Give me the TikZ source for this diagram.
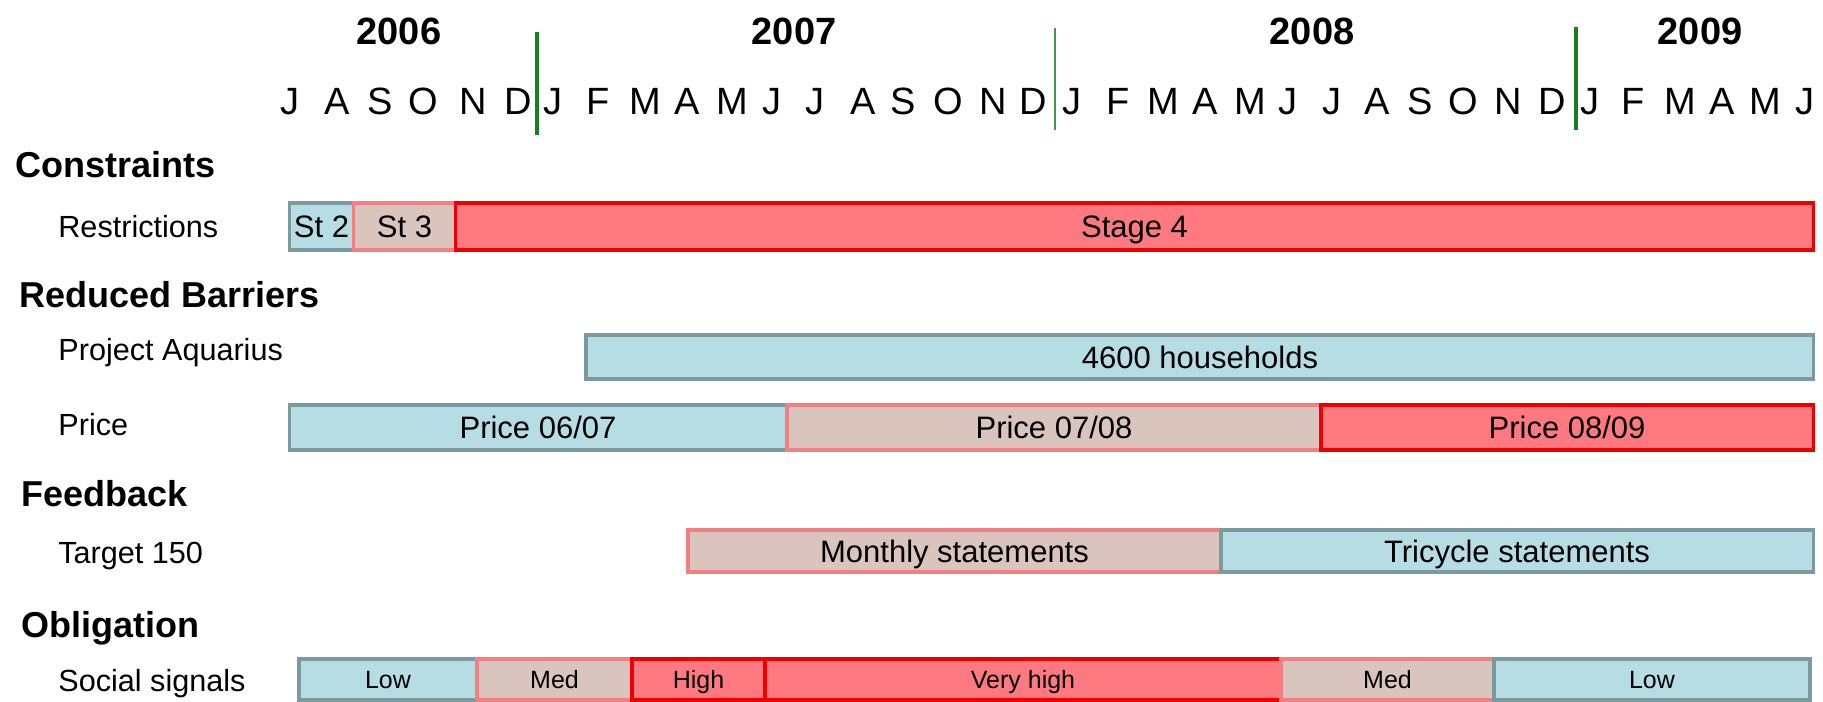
\documentclass[tikz,border=0pt]{standalone}
\usepackage{fontspec}
\setmainfont{Liberation Sans}
\definecolor{barblue}{RGB}{183,221,228}
\definecolor{barblueline}{RGB}{122,154,158}
\definecolor{barbeige}{RGB}{218,196,190}
\definecolor{barpinkline}{RGB}{242,128,130}
\definecolor{barred}{RGB}{255,122,128}
\definecolor{barredline}{RGB}{238,0,0}
\definecolor{yeargreen}{RGB}{20,128,30}
\tikzset{
  bluebar/.style={draw=barblueline, fill=barblue, line width=1.6pt},
  beigebar/.style={draw=barpinkline, fill=barbeige, line width=1.6pt},
  redbar/.style={draw=barredline, fill=barred, line width=1.6pt},
  bartext/.style={inner sep=0pt, text height=11.1pt, text depth=0pt, font=\fontsize{15.5}{18}\selectfont},
  smalltext/.style={inner sep=0pt, text height=9pt, text depth=0pt, font=\fontsize{12.5}{15}\selectfont},
  heading/.style={anchor=west, inner sep=0pt, text height=12.9pt, text depth=0pt, font=\bfseries\fontsize{18}{22}\selectfont},
  rowlabel/.style={anchor=west, inner sep=0pt, text height=11.1pt, text depth=0pt, font=\fontsize{15.3}{18}\selectfont},
  monthlabel/.style={inner sep=0pt, text height=13.6pt, text depth=0pt, font=\fontsize{19}{22}\selectfont},
  yearlabel/.style={inner sep=0pt, text height=13.6pt, text depth=0pt, font=\bfseries\fontsize{19}{22}\selectfont},
  yearline/.style={draw=yeargreen, line width=2pt}
}
\begin{document}
\begin{tikzpicture}[x=0.5pt,y=0.5pt,yscale=-1]
\useasboundingbox (0,0) rectangle (1823,701);
\fill[white] (0,0) rectangle (1823,701);

% Years and months
\node[yearlabel] (y2006) at (399,30.5) {2006};
\node[yearlabel] (y2007) at (794,30.5) {2007};
\node[yearlabel] (y2008) at (1312,30.5) {2008};
\node[yearlabel] (y2009) at (1700,30.5) {2009};
\foreach \x/\m [count=\i] in {290/J,337/A,380/S,423/O,473/N,518/D,
    553/J,598/F,645/M,687/A,732/M,772/J,815/J,863/A,903/S,948/O,993/N,1033/D,
    1072/J,1118/F,1163/M,1205/A,1250/M,1288/J,1332/J,1377/A,1420/S,1463/O,1508/N,1552/D,
    1590/J,1633/F,1680/M,1722/A,1765/M,1805/J}
  \node[monthlabel] (m\i) at (\x,101) {\m};
%Straight Lines
\draw[yearline] (537,32) -- (537,135);
\draw[yearline, line width=0.8pt, draw=yeargreen!80] (1055,28) -- (1055,130);
\draw[yearline] (1576,27) -- (1576,130);

% Constraints
\node[heading] (constraints) at (15,165) {Constraints};
\node[rowlabel] (restrictions) at (58,226.5) {Restrictions};
%Shape: Rectangle
\draw[bluebar] (289.5,203) rectangle (353.5,250);
\node[bartext] (st2) at (321.5,226.5) {St 2};
\draw[beigebar] (353.5,203) rectangle (455.5,250);
\node[bartext] (st3) at (404.5,226.5) {St 3};
\draw[redbar] (455.5,203) rectangle (1813.5,250);
\node[bartext] (st4) at (1134.5,226.5) {Stage 4};

% Reduced Barriers
\node[heading] (barriers) at (19,295) {Reduced Barriers};
\node[rowlabel] (aquarius) at (58,349) {Project Aquarius};
%Shape: Rectangle
\draw[bluebar] (586,335) rectangle (1813.5,379);
\node[bartext] (households) at (1200,357) {4600 households};
\node[rowlabel] (price) at (58,424) {Price};
%Shape: Rectangle
\draw[bluebar] (289.5,405) rectangle (787,450);
\node[bartext] (p0607) at (538,427.5) {Price 06/07};
\draw[beigebar] (787,405) rectangle (1321,450);
\node[bartext] (p0708) at (1054,427.5) {Price 07/08};
\draw[redbar] (1321,405) rectangle (1813.5,450);
\node[bartext] (p0809) at (1567,427.5) {Price 08/09};

% Feedback
\node[heading] (feedback) at (21,494) {Feedback};
\node[rowlabel] (target) at (58,552) {Target 150};
%Shape: Rectangle
\draw[beigebar] (688,530) rectangle (1221,572);
\node[bartext] (monthly) at (954.5,551) {Monthly statements};
\draw[bluebar] (1221,530) rectangle (1813.5,572);
\node[bartext] (tricycle) at (1517,551) {Tricycle statements};

% Obligation
\node[heading] (obligation) at (21,625) {Obligation};
\node[rowlabel] (social) at (58,680) {Social signals};
%Shape: Rectangle
\draw[bluebar] (299,659) rectangle (477,700);
\node[smalltext] (low1) at (388,679.5) {Low};
\draw[beigebar] (477,659) rectangle (632,700);
\node[smalltext] (med1) at (554.5,679.5) {Med};
\draw[redbar] (632,659) rectangle (765,700);
\node[smalltext] (high) at (698.5,679.5) {High};
\draw[redbar] (765,659) rectangle (1281,700);
\node[smalltext] (veryhigh) at (1023,679.5) {Very high};
\draw[beigebar] (1281,659) rectangle (1494,700);
\node[smalltext] (med2) at (1387.5,679.5) {Med};
\draw[bluebar] (1494,659) rectangle (1810,700);
\node[smalltext] (low2) at (1652,679.5) {Low};
\end{tikzpicture}
\end{document}
